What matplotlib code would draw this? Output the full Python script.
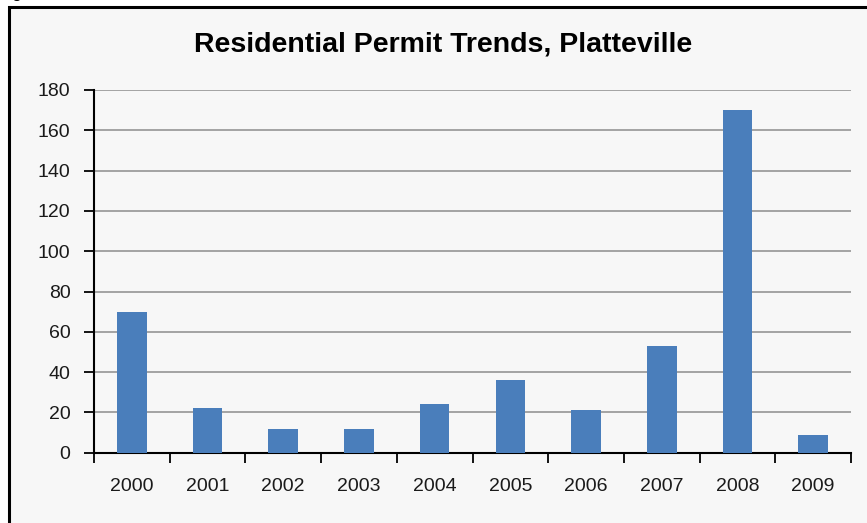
import matplotlib
matplotlib.use("Agg")
import matplotlib.pyplot as plt
from matplotlib.patches import Rectangle
import numpy as np

years = ["2000", "2001", "2002", "2003", "2004", "2005", "2006", "2007", "2008", "2009"]
permits = [70, 22, 12, 12, 24, 36, 21, 53, 170, 9]
y_ticks = [0, 20, 40, 60, 80, 100, 120, 140, 160, 180]

plt.rcParams['font.family'] = ['Liberation Sans', 'DejaVu Sans']

W, H = 867, 523
fig = plt.figure(figsize=(W / 100, H / 100), dpi=100)
fig.patch.set_facecolor("white")

# chart frame: grey fill, black border running off the right and bottom edges
frame = Rectangle((9 / W, -0.05), 1.0, 1 - 7 / H + 0.05, transform=fig.transFigure,
                  facecolor="#f7f7f7", edgecolor="black", linewidth=2.2, zorder=0)
fig.patches.append(frame)

# bits of the caption line above the frame
fig.text(11 / W, 1 + 3 / H, "g", fontsize=13, va="baseline", ha="left")

ax = fig.add_axes([94 / W, 1 - 452.7 / H, (851 - 94) / W, (452.7 - 90) / H])
ax.set_zorder(2)
ax.set_facecolor("none")

x = np.arange(len(years))
ax.bar(x, permits, width=0.39, color="#4a7ebb", zorder=3)

ax.set_xlim(-0.5, len(years) - 0.5)
ax.set_ylim(0, 180)
ax.set_yticks(y_ticks)
ax.yaxis.grid(True, color="#8c8c8c", linewidth=1.1, zorder=1)
ax.set_axisbelow(True)

ax.set_xticks(x)
ax.set_xticklabels(years)
ax.set_xticks(np.arange(len(years) + 1) - 0.5, minor=True)
ax.tick_params(axis="x", which="major", length=0, pad=18, labelsize=14, colors="#1a1a1a")
ax.tick_params(axis="x", which="minor", length=7, width=1.3, direction="out", color="black")
ax.tick_params(axis="y", length=7, width=1.3, direction="out", pad=10, labelsize=14,
               colors="#1a1a1a")
ax.tick_params(axis="both", color="black")

for side in ("top", "right"):
    ax.spines[side].set_visible(False)
for side in ("left", "bottom"):
    ax.spines[side].set_linewidth(1.5)
    ax.spines[side].set_color("black")

fig.text(443 / W, 1 - 45 / H, "Residential Permit Trends, Platteville",
         fontsize=20.5, fontweight="bold", ha="center", va="center", zorder=3)

fig.savefig("out.png", dpi=100)
